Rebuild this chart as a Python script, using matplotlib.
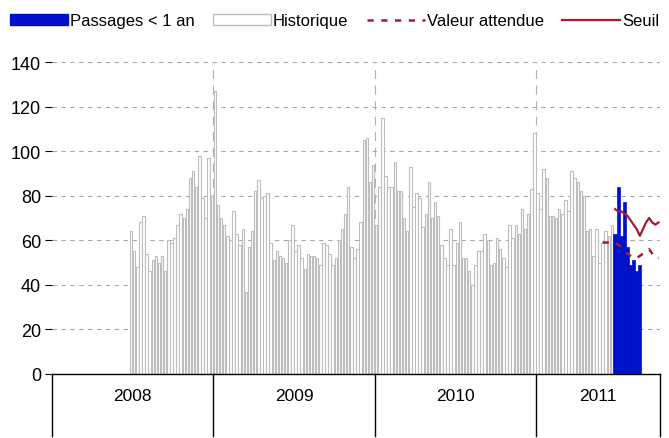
import numpy as np
import matplotlib.pyplot as plt
from matplotlib.patches import Patch
from matplotlib.lines import Line2D
import matplotlib.transforms as mtransforms

plt.rcParams['font.family'] = ['Liberation Sans', 'DejaVu Sans']

years = ['2008', '2009', '2010', '2011']
weeks_per_year = [52, 52, 52, 40]

# historique : semaine 26 de 2008 -> semaine 25 de 2011
hist_start_week = 26
hist_2008 = [64, 55, 48, 68, 71, 54, 46, 51, 53, 50, 53, 46, 60, 59, 61, 67, 72, 70,
             74, 88, 91, 84, 98, 79, 70, 97, 80]
hist_2009 = [127, 76, 70, 67, 62, 60, 73, 63, 58, 65, 37, 57, 64, 82, 87, 79, 80, 81,
             59, 51, 55, 53, 52, 50, 60, 67, 55, 58, 52, 47, 54, 53, 53, 52, 49, 59,
             58, 54, 49, 52, 60, 65, 72, 84, 57, 52, 56, 68, 105, 106, 86, 94]
hist_2010 = [67, 84, 115, 89, 84, 84, 95, 82, 82, 70, 64, 93, 75, 81, 79, 66, 72, 86,
             70, 77, 71, 58, 52, 49, 65, 49, 59, 68, 52, 52, 46, 40, 49, 55, 55, 63,
             60, 49, 50, 61, 56, 52, 48, 67, 61, 67, 63, 74, 65, 72, 83, 108]
hist_2011 = [81, 74, 92, 88, 71, 71, 70, 74, 72, 78, 73, 91, 88, 86, 82, 80, 64, 65,
             53, 65, 50, 59, 64, 62, 67]

# passages < 1 an (2011, a partir de la semaine 26)
passages_start_week = 26
passages = [63, 84, 62, 77, 57, 49, 51, 46, 49]

# valeur attendue (2011, a partir de la semaine 22)
attendue_start_week = 22
attendue = [59, 59, 59, 59, 59, 58, 57, 56, 54, 53, 52, 52, 53, 54, 55, 56, 54, 52, 52]

# seuil (2011, a partir de la semaine 26)
seuil_start_week = 26
seuil = [74, 73, 73, 72, 71, 69, 67, 65, 62, 65, 68, 70, 68, 67, 68]

year_offsets = np.concatenate([[0], np.cumsum(weeks_per_year)])
total_weeks = year_offsets[-1]

hist = hist_2008 + hist_2009 + hist_2010 + hist_2011
hist_x = np.arange(len(hist)) + hist_start_week - 1 + 0.5
pass_x = year_offsets[3] + np.arange(len(passages)) + passages_start_week - 1 + 0.5
att_x = year_offsets[3] + np.arange(len(attendue)) + attendue_start_week - 1 + 0.5
seuil_x = year_offsets[3] + np.arange(len(seuil)) + seuil_start_week - 1 + 0.5

red = '#A51C30'
blue = '#0010C8'

fig = plt.figure(figsize=(6.69, 4.39), dpi=100)
ax = fig.add_axes([52 / 669, 1 - 375 / 439, 608 / 669, 312 / 439])

ax.bar(hist_x, hist, width=0.8, color='white', edgecolor='#BDBDBD', linewidth=0.8, zorder=2)
ax.bar(pass_x, passages, width=1.0, color=blue, edgecolor=blue, linewidth=0.5, zorder=3)
ax.plot(att_x, attendue, color=red, linewidth=1.8, linestyle=(0, (2.5, 3)), zorder=4)
ax.plot(seuil_x, seuil, color=red, linewidth=1.6, zorder=4)

ax.set_xlim(0, total_weeks)
ax.set_ylim(0, 140)
ax.set_yticks(np.arange(0, 141, 20))
ax.yaxis.grid(True, color='#A8A8A8', linestyle=(0, (4, 4)), linewidth=0.8)
ax.set_axisbelow(True)
for xb in year_offsets[1:-1]:
    ax.axvline(xb, color='#B0B0B0', linestyle=(0, (8, 6)), linewidth=0.8, zorder=1)

for s in ['top', 'right', 'left']:
    ax.spines[s].set_visible(False)
ax.spines['bottom'].set_color('black')
ax.spines['bottom'].set_linewidth(1.0)
ax.set_xticks([])
ax.tick_params(axis='y', length=5, width=0.8, labelsize=13, pad=3)

trans = mtransforms.blended_transform_factory(ax.transData, ax.transAxes)
for xb in year_offsets:
    ax.plot([xb, xb], [0, -0.2], color='black', linewidth=1.0, transform=trans, clip_on=False)
for i, y in enumerate(years):
    xc = (year_offsets[i] + year_offsets[i + 1]) / 2
    ax.text(xc, -0.07, y, transform=trans, ha='center', va='center', fontsize=12.5)

handles = [Patch(facecolor=blue, edgecolor=blue),
           Patch(facecolor='white', edgecolor='#BDBDBD'),
           Line2D([], [], color=red, linewidth=1.8, linestyle=(0, (2.5, 3))),
           Line2D([], [], color=red, linewidth=1.6)]
labels = ['Passages < 1 an', 'Historique', 'Valeur attendue', 'Seuil']
fig.legend(handles, labels, loc='upper left', bbox_to_anchor=(0.0, 0.99), ncol=4,
           frameon=False, fontsize=12, handlelength=3.5, handleheight=0.55,
           handletextpad=0.1, columnspacing=1.1, borderaxespad=0.2)

fig.savefig('out.png', dpi=100)
